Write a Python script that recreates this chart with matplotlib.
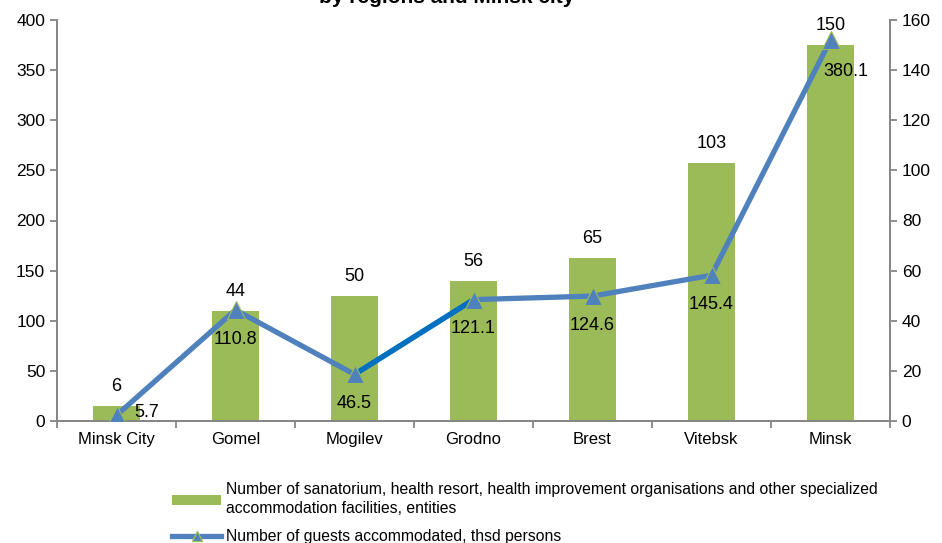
import matplotlib
matplotlib.use("Agg")
import matplotlib.pyplot as plt
from matplotlib.patches import Patch
from matplotlib.lines import Line2D

plt.rcParams['font.family'] = ['Liberation Sans', 'DejaVu Sans']

categories = ["Minsk City", "Gomel", "Mogilev", "Grodno", "Brest", "Vitebsk", "Minsk"]
facilities = [6, 44, 50, 56, 65, 103, 150]
guests = [5.7, 110.8, 46.5, 121.1, 124.6, 145.4, 380.1]
left_ticks = [0, 50, 100, 150, 200, 250, 300, 350, 400]
right_ticks = [0, 20, 40, 60, 80, 100, 120, 140, 160]

bar_color = "#9BBB59"
line_color = "#4F81BD"
hl_color = "#0070C0"
axis_color = "#868686"
fs = 12
fs_tick = 12.5
fs_data = 13

W, H = 942, 543
fig = plt.figure(figsize=(W / 100, H / 100), dpi=100)
l, r, t, b = 57, 890, 20, 421
ax = fig.add_axes([l / W, 1 - b / H, (r - l) / W, (b - t) / H])
ax2 = ax.twinx()
x = list(range(len(categories)))

# bars on right axis
ax.bar(x, facilities, width=0.4, color=bar_color, zorder=2)
ax.set_ylim(0, 160)
ax.set_xlim(-0.5, len(categories) - 0.5)
ax.yaxis.tick_right()
ax.yaxis.set_label_position("right")
ax.set_yticks(right_ticks)
for xi, v in zip(x, facilities):
    ax.annotate(str(v), (xi, v), xytext=(0, 8), textcoords="offset points",
                ha="center", va="bottom", fontsize=fs_data)

# line on left axis
ax2.yaxis.tick_left()
ax2.yaxis.set_label_position("left")
ax2.set_ylim(0, 400)
ax2.set_yticks(left_ticks)
ax2.plot(x, guests, color=line_color, lw=3.8, zorder=3, solid_capstyle="round")
ax2.plot(x[2:4], guests[2:4], color=hl_color, lw=3.8, zorder=3.5)
ax2.plot(x, guests, ls="none", marker="^", ms=12.5, markerfacecolor=line_color,
         markeredgecolor=bar_color, markeredgewidth=0.8, zorder=4)
n = len(guests)
for i, (xi, v) in enumerate(zip(x, guests)):
    if i == 0:
        off = (22, 2)
    elif i == n - 1:
        off = (11, -23)
    else:
        off = (0, -21)
    ax2.annotate(f"{v}", (xi, v), xytext=off, textcoords="offset points",
                 ha="center", va="center", fontsize=fs_data)

for a in (ax, ax2):
    a.spines["top"].set_visible(False)
    for s in ("left", "right", "bottom"):
        a.spines[s].set_color(axis_color)
        a.spines[s].set_linewidth(1.3)
    a.tick_params(axis="y", colors=axis_color, labelcolor="black", labelsize=fs_tick,
                  length=5, width=1.3, direction="out")

ax.set_xticks(x)
ax.set_xticklabels(categories, fontsize=fs)
ax.set_xticks([i - 0.5 for i in range(len(categories) + 1)], minor=True)
ax.tick_params(axis="x", which="major", length=0, pad=8)
ax.tick_params(axis="x", which="minor", length=5, width=1.3, color=axis_color, direction="out")

fig.text(447 / W, 1 - 3 / H, "by regions and Minsk city", ha="center", va="baseline",
         fontsize=15, fontweight="bold")

handles = [Patch(facecolor=bar_color, edgecolor="none"),
           Line2D([0], [0], color=line_color, lw=3.8, marker="^", ms=7,
                  markerfacecolor=line_color, markeredgecolor=bar_color)]
labels = ["Number of sanatorium, health resort, health improvement organisations and other specialized\naccommodation facilities, entities",
          "Number of guests accommodated, thsd persons"]
leg = fig.legend(handles, labels, loc="upper left", bbox_to_anchor=(166 / W, 1 - 476 / H),
                 frameon=False, fontsize=11.3, handlelength=3.1, handleheight=0.6,
                 handletextpad=0.35, labelspacing=0.8, borderaxespad=0)
for txt in leg.get_texts():
    txt.set_linespacing(1.35)

fig.savefig("out.png", dpi=100)
